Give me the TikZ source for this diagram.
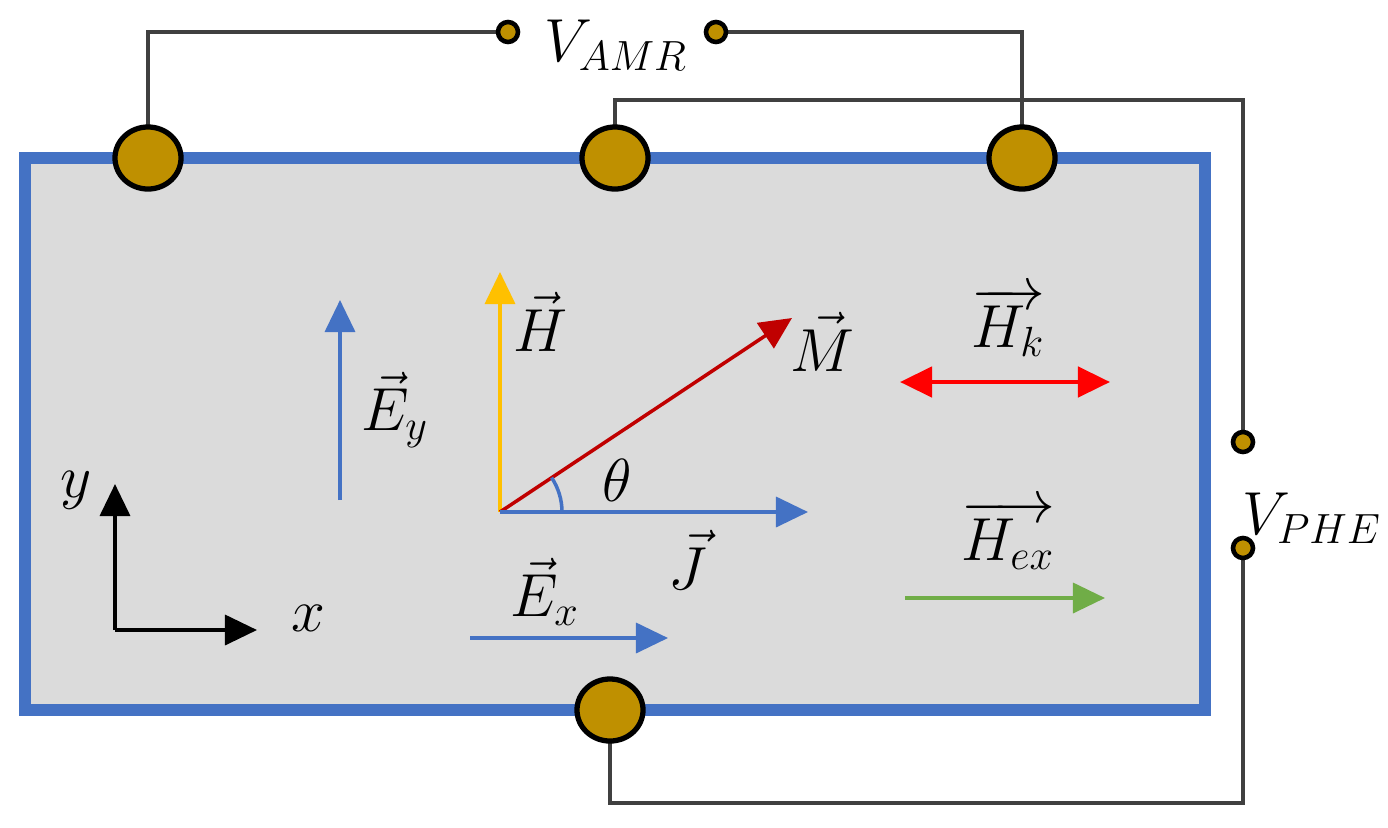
\documentclass[tikz,border=0pt]{standalone}
\usetikzlibrary{arrows.meta,shapes.geometric}
\begin{document}
\begin{tikzpicture}[x=0.01cm,y=-0.01cm,
  wire/.style={line width=1.3pt,draw=black!75},
  vec/.style={line width=1pt,-{Triangle[length=0.32cm,width=0.3cm]}},
  lab/.style={font=\fontsize{17}{20}\selectfont}]
\useasboundingbox (0,0) rectangle (1388,827);
\definecolor{gold}{HTML}{BF9000}
\definecolor{bl}{HTML}{4472C4}
\definecolor{yl}{HTML}{FFC000}
\definecolor{dr}{HTML}{C00000}
\definecolor{gr}{HTML}{70AD47}
\tikzset{pad/.style={fill=gold,draw=black,line width=1.5pt},term/.style={fill=gold,draw=black,line width=1.3pt}}
% wires
\coordinate (t1) at (508,32); \coordinate (t2) at (716,32);
\coordinate (t3) at (1243,442); \coordinate (t4) at (1243,548);
\draw[wire] (148,158) -- (148,32) -- (t1);
\draw[wire] (t2) -- (1022,32) -- (1022,158);
\draw[wire] (615,158) -- (615,100) -- (1243,100) -- (t3);
\draw[wire] (t4) -- (1243,803) -- (610,803) -- (610,710);
% sample
\draw[draw=bl,fill=black!14,line width=3.5pt] (25,158) rectangle (1205,710);
\foreach \n/\p in {p1/{(148,158)},p2/{(615,158)},p3/{(1022,158)},p4/{(610,710)}}
  \node[pad,ellipse,minimum width=0.66cm,minimum height=0.62cm,inner sep=0] (\n) at \p {};
\foreach \n/\p in {a/t1,b/t2,c/t3,d/t4}
  \draw[term] (\p) circle (10);
\node[lab] at (616,45) {$V_{AMR}$};
\node[lab] at (1312,518) {$V_{PHE}$};
% vectors
\coordinate (O) at (500,512);
\draw[vec,bl] (340,500) -- (340,300);
\node[lab] at (395,410) {$\vec{E}_y$};
\draw[vec,yl] (O) -- (500,272);
\node[lab] at (540,322) {$\vec{H}$};
\draw[vec,dr] (O) -- (792,318);
\node[lab] at (822,342) {$\vec{M}$};
\draw[vec,bl] (O) -- (808,512);
\node[lab] at (688,560) {$\vec{J}$};
\draw[bl,line width=1pt] (562,512) arc (0:-33.7:62);
\node[lab] at (617,480) {$\theta$};
\draw[vec,bl] (470,638) -- (668,638);
\node[lab] at (545,592) {$\vec{E}_x$};
\draw[line width=1.3pt,red,{Triangle[length=0.32cm,width=0.3cm]}-{Triangle[length=0.32cm,width=0.3cm]}] (900,382) -- (1110,382);
\node[lab] at (1008,322) {$\overrightarrow{H_k}$};
\draw[vec,gr] (905,598) -- (1105,598);
\node[lab] at (1008,535) {$\overrightarrow{H_{ex}}$};
% axes
\coordinate (A) at (115,630);
\draw[vec,black] (A) -- (115,484);
\draw[vec,black] (A) -- (257,630);
\node[lab] at (76,490) {$y$};
\node[lab] at (308,618) {$x$};
\end{tikzpicture}
\end{document}
